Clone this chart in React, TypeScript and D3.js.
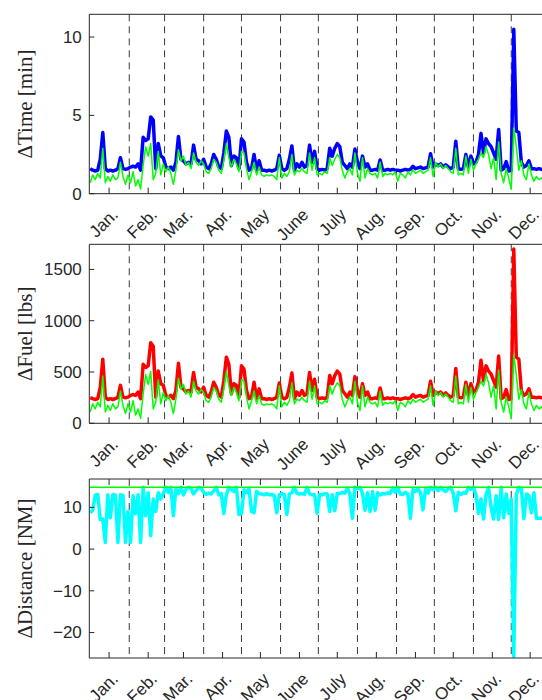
import React from 'react';
import * as d3 from 'd3';

const MONTHS = ['Jan.', 'Feb.', 'Mar.', 'Apr.', 'May', 'June', 'July', 'Aug.', 'Sep.', 'Oct.', 'Nov.', 'Dec.'];
const MONTH_START = [0, 31, 59, 90, 120, 151, 181, 212, 243, 273, 304, 334];
const STEP_DAYS = 2;

const TIME_A = [
  1.6, 1.5, 1.45, 1.5, 2.2, 3.9, 1.6, 1.45, 1.5, 1.45,
  1.5, 1.6, 2.3, 1.6, 1.55, 1.6, 1.7, 1.75, 1.7, 1.9,
  1.5, 3.6, 3.4, 3.5, 4.9, 4.7, 1.6, 3.2, 2.4, 2.3,
  1.7, 1.6, 1.7, 1.5, 2.0, 3.65, 2.2, 2.1, 1.9, 2.0,
  1.9, 3.1, 2.2, 2.1, 1.9, 2.2, 1.7, 1.6, 1.9, 2.5,
  2.2, 1.7, 1.6, 2.6, 4.0, 3.6, 1.8, 2.4, 2.3, 1.6,
  3.5, 3.3, 2.0, 1.5, 1.6, 2.5, 1.5, 2.1, 1.5, 1.5,
  1.45, 1.5, 1.45, 1.5, 1.6, 2.45, 1.6, 1.5, 1.6, 2.2,
  3.05, 1.5, 1.9, 1.7, 2.0, 1.7, 1.8, 3.1, 2.0, 2.7,
  1.6, 1.5, 1.55, 1.5, 1.6, 2.9, 2.4, 2.9, 3.2, 3.0,
  2.0, 1.8, 1.6, 1.9, 1.7, 2.85, 2.0, 1.6, 2.4, 1.7,
  1.9, 1.5, 1.5, 1.55, 1.5, 2.15, 1.5, 1.5, 1.55, 1.5,
  1.55, 1.5, 1.5, 1.45, 1.5, 1.55, 1.5, 1.55, 1.75, 1.6,
  1.65, 1.7, 1.6, 1.65, 1.7, 2.55, 1.7, 1.9, 1.8, 1.9,
  1.7, 1.85, 1.7, 1.6, 1.7, 3.35, 1.6, 1.55, 1.6, 2.5,
  1.7, 2.4, 1.9, 2.0, 2.5, 3.85, 2.6, 3.5, 3.2, 3.0,
  2.6, 2.2, 4.1, 1.5, 1.6, 2.05, 1.45, 1.5, 10.5, 4.0,
  3.9, 2.0, 1.7, 1.8, 2.1, 1.6, 1.6, 1.55, 1.6, 1.55,
  1.55, 1.6, 1.55,
];

const TIME_B = [
  0.7, 1.2, 0.9, 1.3, 1.0, 2.9, 0.7, 1.1, 0.8, 1.2,
  0.9, 1.0, 2.0, 1.1, 0.6, 1.2, 0.7, 1.4, 0.5, 0.9,
  0.3, 1.8, 3.0, 2.4, 3.2, 0.9, 1.3, 2.7, 1.2, 1.9,
  1.4, 1.7, 1.3, 0.6, 1.5, 2.8, 2.1, 2.4, 1.8, 2.0,
  1.6, 2.6, 2.0, 1.8, 2.1, 1.9, 1.4, 1.3, 1.6, 2.2,
  2.0, 1.5, 1.3, 2.1, 3.2, 2.3, 1.7, 2.2, 1.9, 1.4,
  2.7, 2.6, 1.6, 0.9, 1.4, 2.0, 1.2, 1.7, 1.2, 1.1,
  1.2, 1.15, 1.2, 1.1, 0.9, 2.3, 1.0, 1.3, 1.1, 1.4,
  2.5, 1.2, 1.5, 1.4, 1.6, 1.4, 1.3, 2.6, 1.5, 2.3,
  1.2, 1.3, 1.2, 1.4, 1.3, 2.3, 1.8, 2.2, 2.5, 2.3,
  1.5, 1.0, 1.4, 1.6, 1.2, 2.6, 1.3, 0.8, 2.3, 1.0,
  1.6, 1.3, 1.2, 1.3, 1.0, 2.0, 1.1, 1.3, 1.2, 1.3,
  1.2, 1.4, 0.8, 1.3, 1.2, 1.0, 1.4, 1.2, 1.5, 1.3,
  1.4, 1.5, 1.3, 1.4, 1.5, 2.3, 1.1, 2.0, 1.7, 1.9,
  1.6, 1.8, 1.6, 1.4, 1.3, 2.9, 1.2, 1.3, 1.2, 2.4,
  1.3, 2.2, 1.5, 1.9, 2.2, 2.6, 2.3, 3.0, 2.5, 1.6,
  2.3, 0.9, 3.3, 1.3, 0.7, 1.6, 1.0, 0.3, 4.2, 3.0,
  1.5, 2.1, 1.2, 0.9, 1.9, 1.2, 0.8, 1.1, 0.9, 1.0,
  0.8, 1.0, 0.9,
];

const FUEL_A = [
  250, 240, 232, 240, 350, 625, 255, 232, 240, 232,
  240, 255, 370, 255, 248, 255, 272, 280, 272, 305,
  240, 575, 545, 560, 785, 750, 255, 510, 385, 370,
  272, 255, 272, 240, 320, 585, 352, 336, 305, 320,
  305, 495, 352, 336, 305, 352, 272, 255, 305, 400,
  352, 272, 255, 415, 645, 575, 288, 385, 368, 255,
  560, 528, 320, 240, 255, 400, 240, 336, 240, 240,
  232, 240, 232, 240, 255, 392, 255, 240, 255, 352,
  490, 240, 305, 272, 320, 272, 288, 495, 320, 430,
  255, 240, 248, 240, 255, 465, 385, 465, 510, 480,
  320, 288, 255, 305, 272, 455, 320, 255, 385, 272,
  305, 240, 240, 248, 240, 345, 240, 240, 248, 240,
  248, 240, 240, 232, 240, 248, 240, 248, 280, 255,
  265, 272, 255, 265, 272, 410, 272, 305, 288, 305,
  272, 296, 272, 255, 272, 535, 255, 248, 255, 400,
  272, 385, 305, 320, 400, 615, 415, 560, 510, 480,
  415, 352, 655, 240, 255, 328, 232, 240, 1700, 645,
  625, 320, 272, 288, 336, 255, 255, 248, 255, 248,
  248, 255, 248,
];

const FUEL_B = [
  110, 190, 140, 205, 160, 460, 110, 175, 125, 190,
  140, 160, 315, 175, 95, 190, 110, 220, 80, 140,
  50, 285, 475, 380, 505, 140, 205, 425, 190, 300,
  220, 270, 205, 95, 235, 440, 330, 380, 285, 315,
  255, 410, 315, 285, 330, 300, 220, 205, 255, 350,
  315, 235, 205, 330, 505, 365, 270, 350, 300, 220,
  425, 410, 255, 140, 220, 315, 190, 270, 190, 175,
  190, 180, 190, 175, 140, 365, 160, 205, 175, 220,
  395, 190, 235, 220, 255, 220, 205, 410, 235, 365,
  190, 205, 190, 220, 205, 365, 285, 350, 395, 365,
  235, 160, 220, 255, 190, 410, 205, 125, 365, 160,
  255, 205, 190, 205, 160, 315, 175, 205, 190, 205,
  190, 220, 125, 205, 190, 160, 220, 190, 235, 205,
  220, 235, 205, 220, 235, 365, 175, 315, 270, 300,
  255, 285, 255, 220, 205, 460, 190, 205, 190, 380,
  205, 350, 235, 300, 350, 410, 365, 475, 395, 255,
  365, 140, 520, 205, 110, 255, 160, 50, 670, 475,
  235, 330, 190, 140, 300, 190, 125, 175, 140, 160,
  125, 160, 140,
];

const DIST = [
  8.7, 9.3, 12.9, 13.1, 7.1, 7.2, 1.6, 13.0, 7.5, 13.1,
  12.9, 1.6, 13.0, 12.9, 1.6, 9.0, 1.6, 12.8, 8.5, 13.0,
  1.6, 14.8, 8.0, 13.5, 3.2, 12.0, 9.0, 13.5, 12.0, 13.3,
  14.8, 13.6, 14.8, 8.0, 14.5, 13.3, 14.8, 13.0, 14.3, 14.8,
  14.5, 13.2, 14.0, 14.8, 14.6, 13.6, 13.1, 13.4, 13.2, 14.0,
  14.8, 13.0, 13.3, 8.5, 13.0, 14.8, 14.3, 13.8, 14.8, 8.3,
  8.5, 14.2, 13.5, 14.5, 9.0, 8.7, 13.8, 13.3, 13.2, 13.0,
  13.3, 13.0, 13.1, 12.8, 8.7, 13.0, 13.3, 13.0, 8.3, 13.2,
  13.5, 14.8, 13.4, 13.2, 13.3, 13.1, 14.8, 13.3, 13.0, 13.0,
  8.6, 13.1, 13.0, 13.3, 13.2, 9.0, 13.0, 9.2, 13.4, 13.3,
  13.6, 13.4, 14.7, 13.2, 7.4, 14.8, 14.5, 14.8, 13.4, 9.3,
  13.5, 9.0, 13.8, 9.3, 13.5, 13.0, 13.3, 13.2, 13.5, 13.3,
  14.6, 13.6, 14.8, 13.2, 13.1, 13.6, 13.2, 7.4, 14.3, 13.8,
  14.5, 13.5, 9.4, 14.6, 13.4, 14.8, 14.2, 14.8, 14.0, 14.8,
  14.2, 13.8, 14.5, 14.8, 13.4, 9.2, 13.6, 13.1, 13.5, 13.4,
  14.8, 14.3, 14.8, 13.0, 8.6, 12.0, 7.2, 13.0, 14.8, 10.0,
  7.2, 12.8, 7.1, 14.8, 7.5, 13.2, 8.6, 12.0, -25.7, 13.0,
  14.8, 14.5, 7.3, 13.2, 12.8, 8.7, 13.5, 7.4, 7.4, 7.4,
  7.4, 7.4, 7.4,
];

const DIST_REF = 14.8;

const TIME_TICKS = [0, 5, 10];
const FUEL_TICKS = [0, 500, 1000, 1500];
const DIST_TICKS = [-20, -10, 0, 10];

const AXIS_COLOR = '#262626';
const LEFT = 89.3;

const x = d3.scaleLinear().domain([-0.7, 366]).range([LEFT, 551.6]);

type Series = { values: number[]; color: string; width: number };

function Panel(props: {
  id: string;
  top: number;
  bottom: number;
  domain: [number, number];
  ticks: number[];
  label: string;
  series: Series[];
  refLine?: number;
  topTicks?: boolean;
}) {
  const { id, top, bottom, domain, ticks, label, series, refLine, topTicks } = props;
  const y = d3.scaleLinear().domain(domain).range([bottom, top]);
  const line = d3
    .line<number>()
    .x((_, i) => x(i * STEP_DAYS))
    .y((d) => y(d));
  const monthTicks = MONTH_START.map((s) => s + 15);
  const boundaries = MONTH_START.slice(1);
  const right = 560;
  return (
    <g>
      <defs>
        <clipPath id={`clip-${id}`}>
          <rect x={LEFT} y={top} width={right - LEFT} height={bottom - top} />
        </clipPath>
      </defs>
      {boundaries.map((b) => (
        <line
          key={b}
          x1={x(b)}
          x2={x(b)}
          y1={top}
          y2={bottom}
          stroke="#3a3a3a"
          strokeWidth={1}
          strokeDasharray="7,5"
        />
      ))}
      <g clipPath={`url(#clip-${id})`}>
        {series.map((s, k) => (
          <path
            key={k}
            d={line(s.values) || ''}
            fill="none"
            stroke={s.color}
            strokeWidth={s.width}
            strokeLinejoin="round"
          />
        ))}
        {refLine !== undefined && (
          <line x1={LEFT} x2={right} y1={y(refLine)} y2={y(refLine)} stroke="#00ff00" strokeWidth={1.5} />
        )}
      </g>
      <line x1={LEFT} x2={right} y1={top} y2={top} stroke={AXIS_COLOR} strokeWidth={1} />
      <line x1={LEFT} x2={right} y1={bottom} y2={bottom} stroke={AXIS_COLOR} strokeWidth={1} />
      <line x1={LEFT} x2={LEFT} y1={top} y2={bottom} stroke={AXIS_COLOR} strokeWidth={1} />
      {monthTicks.map((t) => (
        <g key={t}>
          <line x1={x(t)} x2={x(t)} y1={bottom} y2={bottom - 6} stroke={AXIS_COLOR} strokeWidth={1} />
          {topTicks && <line x1={x(t)} x2={x(t)} y1={top} y2={top + 6} stroke={AXIS_COLOR} strokeWidth={1} />}
        </g>
      ))}
      {ticks.map((t) => (
        <g key={t}>
          <line x1={LEFT} x2={LEFT + 5} y1={y(t)} y2={y(t)} stroke={AXIS_COLOR} strokeWidth={1} />
          <text
            x={LEFT - 7.5}
            y={y(t)}
            dy="0.35em"
            textAnchor="end"
            fontFamily="'Liberation Sans', Arial, sans-serif"
            fontSize={17}
            fill={AXIS_COLOR}
          >
            {t < 0 ? `\u2212${Math.abs(t)}` : `${t}`}
          </text>
        </g>
      ))}
      {monthTicks.map((t, i) => (
        <text
          key={`l${t}`}
          transform={`translate(${x(t) + 10},${bottom + 22}) rotate(-45)`}
          textAnchor="end"
          fontFamily="'Liberation Sans', Arial, sans-serif"
          fontSize={17}
          fill={AXIS_COLOR}
        >
          {MONTHS[i]}
        </text>
      ))}
      <text
        transform={`translate(25,${(top + bottom) / 2}) rotate(-90)`}
        textAnchor="middle"
        dy="0.35em"
        fontFamily="'Liberation Serif', 'Times New Roman', serif"
        fontSize={21}
        fill={AXIS_COLOR}
      >
        {label}
      </text>
    </g>
  );
}

export default function App() {
  return (
    <svg
      width={542}
      height={700}
      style={{ position: 'absolute', left: 0, top: 0, background: '#fff' }}
    >
      <rect x={0} y={0} width={542} height={700} fill="#fff" />
      <Panel
        id="time"
        top={14.3}
        bottom={193.7}
        domain={[0, 11.45]}
        ticks={TIME_TICKS}
        label="ΔTime [min]"
        series={[
          { values: TIME_A, color: '#0000ff', width: 3.5 },
          { values: TIME_B, color: '#00ff00', width: 1.5 },
        ]}
      />
      <Panel
        id="fuel"
        top={244.3}
        bottom={423.3}
        domain={[0, 1745]}
        ticks={FUEL_TICKS}
        label="ΔFuel [lbs]"
        series={[
          { values: FUEL_A, color: '#ff0000', width: 3.5 },
          { values: FUEL_B, color: '#00ff00', width: 1.5 },
        ]}
      />
      <Panel
        id="dist"
        top={479}
        bottom={658}
        domain={[-26.1, 16.8]}
        ticks={DIST_TICKS}
        label="ΔDistance [NM]"
        series={[{ values: DIST, color: '#00ffff', width: 3.5 }]}
        refLine={DIST_REF}
        topTicks
      />
    </svg>
  );
}
